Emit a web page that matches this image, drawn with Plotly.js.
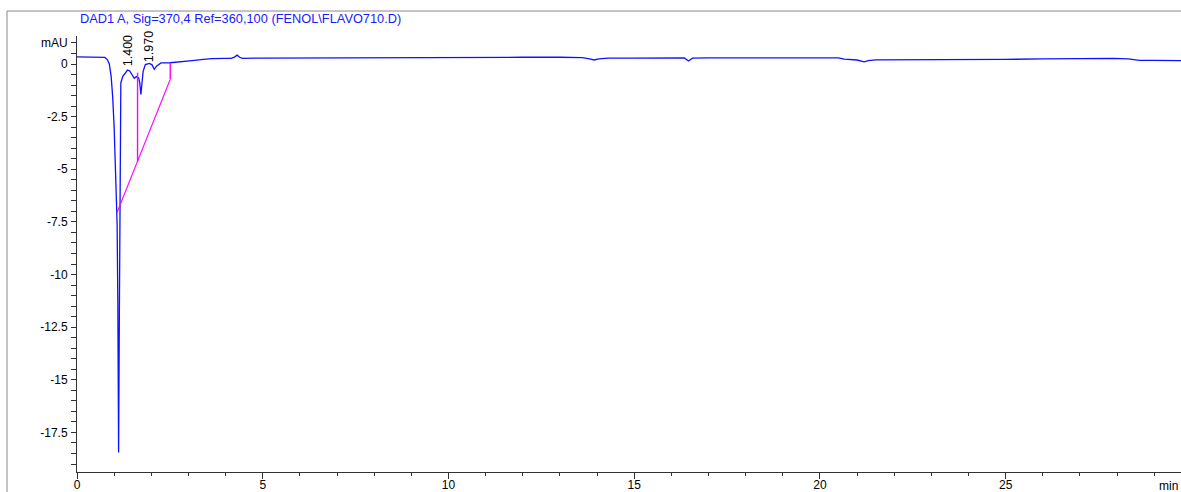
<!DOCTYPE html>
<html>
<head>
<meta charset="utf-8">
<script src="https://cdn.plot.ly/plotly-3.0.1.min.js"></script>
<style>
  html, body { margin: 0; padding: 0; background: #fff; }
  #chart { width: 1181px; height: 492px; }
</style>
</head>
<body>
<div id="chart"></div>
<script>
// DAD1 A chromatogram (370 nm), retention time in minutes vs absorbance in mAU
const timeMin = [
  0, 0.3, 0.6, 0.75, 0.82, 0.87, 0.92, 0.96, 1.0, 1.03, 1.06, 1.08, 1.1, 1.12,
  1.14, 1.16, 1.18, 1.23, 1.3, 1.36, 1.42, 1.47, 1.54, 1.6, 1.66, 1.69, 1.72,
  1.75, 1.78, 1.84, 1.95, 2.02, 2.08, 2.14, 2.26, 2.51, 2.8, 3.1, 3.4, 3.64,
  4.0, 4.15, 4.24, 4.31, 4.38, 4.45, 5, 6, 7, 8, 9, 10, 11, 12, 13, 13.6, 13.8,
  13.92, 14.05, 14.3, 15, 16, 16.35, 16.46, 16.57, 17, 18, 19, 20, 20.5, 20.65,
  21.0, 21.19, 21.3, 21.5, 22, 23, 24, 25, 26, 27, 27.9, 28.3, 28.6, 29, 29.72
];
const signalMAU = [
  0.34, 0.34, 0.33, 0.31, 0.2, 0.0, -0.6, -1.55, -3.0, -4.7, -6.2, -7.6, -11.5, -18.45,
  -12, -5, -0.9, -0.6, -0.4, -0.29, -0.33, -0.5, -0.68, -0.6, -0.66, -0.9, -1.45,
  -0.9, -0.35, -0.03, 0.03, -0.04, -0.25, -0.1, 0.05, 0.06, 0.1, 0.16, 0.22, 0.26,
  0.27, 0.27, 0.33, 0.42, 0.32, 0.27, 0.28, 0.29, 0.3, 0.3, 0.31, 0.31, 0.31, 0.32, 0.32, 0.3, 0.24,
  0.19, 0.24, 0.28, 0.28, 0.29, 0.29, 0.14, 0.28, 0.29, 0.29, 0.3, 0.3, 0.29, 0.23,
  0.19, 0.1, 0.16, 0.2, 0.2, 0.21, 0.22, 0.22, 0.24, 0.26, 0.27, 0.24, 0.17, 0.17, 0.16
];

// Integration baseline and peak drop lines
const baseTime = [1.077, 2.51];
const baseMAU = [-7.06, -0.73];
const dropTime = [1.63, 2.51];
const dropTop = [-0.41, 0.04];
const dropBottom = [-4.62, -0.73];

// Labelled retention times
const peakRT = [1.4, 1.97];
const peakLabels = ['1.400', '1.970'];
const peakLabelBase = [-0.2, -0.0];

// Axis ticks
const yTickVals = [1, 0, -2.5, -5, -7.5, -10, -12.5, -15, -17.5];
const yTickText = ['mAU', '0', '-2.5', '-5', '-7.5', '-10', '-12.5', '-15', '-17.5'];

const traces = [
  {
    x: timeMin, y: signalMAU, type: 'scatter', mode: 'lines',
    line: { color: '#1010ff', width: 1.3 }, hoverinfo: 'skip'
  },
  {
    x: baseTime, y: baseMAU, type: 'scatter', mode: 'lines',
    line: { color: '#ff00ff', width: 1.2 }, hoverinfo: 'skip'
  }
];
dropTime.forEach((t, i) => {
  traces.push({
    x: [t, t], y: [dropTop[i], dropBottom[i]], type: 'scatter', mode: 'lines',
    line: { color: '#ff00ff', width: 1.4 }, hoverinfo: 'skip'
  });
});

const annotations = peakRT.map((t, i) => ({
  x: t, y: peakLabelBase[i], xref: 'x', yref: 'y',
  text: peakLabels[i], showarrow: false, textangle: -90,
  xanchor: 'center', yanchor: 'bottom', xshift: -1.5,
  font: { family: 'Liberation Sans, Arial, sans-serif', size: 12.5, color: '#000' }
}));
// Time unit at the right end of the x axis
annotations.push({
  x: 1, y: 0, xref: 'paper', yref: 'paper', text: 'min',
  showarrow: false, xanchor: 'right', yanchor: 'top', yshift: -5, xshift: -1,
  font: { family: 'Liberation Sans, Arial, sans-serif', size: 12, color: '#000' }
});

const frameColor = '#8a8a8a';
const layout = {
  width: 1181, height: 492,
  margin: { l: 77, r: 0, t: 36, b: 20, pad: 0 },
  paper_bgcolor: '#fff', plot_bgcolor: '#fff',
  showlegend: false,
  font: { family: 'Liberation Sans, Arial, sans-serif', size: 12, color: '#000' },
  title: {
    text: 'DAD1 A, Sig=370,4 Ref=360,100 (FENOL\\FLAVO710.D)',
    xref: 'container', yref: 'container', x: 80 / 1181, xanchor: 'left',
    y: 1 - 19 / 492, yanchor: 'middle',
    font: { family: 'Liberation Sans, Arial, sans-serif', size: 12.8, color: '#1a1aff' }
  },
  xaxis: {
    range: [0, 29.72], showgrid: false, zeroline: false,
    showline: true, linecolor: '#333', linewidth: 1,
    tickmode: 'linear', tick0: 0, dtick: 5,
    ticks: 'outside', ticklen: 6, tickcolor: '#333', tickwidth: 1,
    ticklabelstandoff: -4,
    minor: { tickmode: 'linear', tick0: 0, dtick: 1, ticks: 'outside', ticklen: 3, tickcolor: '#333', showgrid: false },
    tickfont: { size: 12 }, fixedrange: true
  },
  yaxis: {
    range: [-19.38, 1.33], showgrid: false, zeroline: false,
    showline: true, linecolor: '#333', linewidth: 1,
    tickmode: 'array', tickvals: yTickVals, ticktext: yTickText,
    ticks: 'outside', ticklen: 5, tickcolor: '#333', tickwidth: 1,
    ticklabelstandoff: 1,
    minor: { tickmode: 'linear', tick0: 0, dtick: 0.5, ticks: 'outside', ticklen: 5, tickcolor: '#333', showgrid: false },
    tickfont: { size: 12 }, fixedrange: true
  },
  annotations: annotations,
  shapes: [
    { type: 'line', xref: 'paper', yref: 'paper', x0: -0.0634, x1: -0.0634, y0: -0.06, y1: 1.0573,
      line: { color: frameColor, width: 1 } },
    { type: 'line', xref: 'paper', yref: 'paper', x0: -0.0634, x1: 1.01, y0: 1.0573, y1: 1.0573,
      line: { color: frameColor, width: 1 } }
  ]
};

Plotly.newPlot('chart', traces, layout, { displayModeBar: false, staticPlot: true });
</script>
</body>
</html>
